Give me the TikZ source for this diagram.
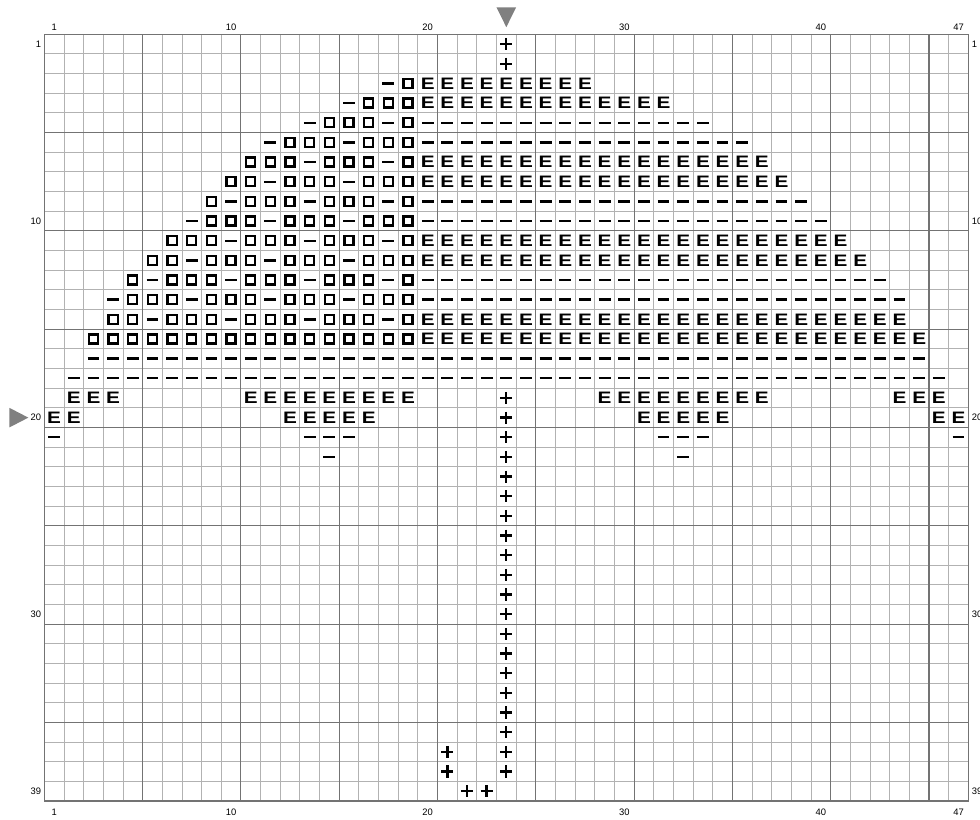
\documentclass[tikz,border=0pt]{standalone}
\usepackage{fontspec}
\setmainfont{Liberation Sans}
\usepackage{graphicx}
\usepackage{tikz}
\definecolor{gridminor}{gray}{0.70}
\definecolor{gridmajor}{gray}{0.45}
\definecolor{markgray}{gray}{0.50}
\tikzset{
  gridthin/.style={draw=gridminor, line width=0.6pt},
  gridthick/.style={draw=gridmajor, line width=0.8pt},
  gridframe/.style={draw=gridmajor, line width=1pt},
  stsym/.style={draw=black, line width=1.7pt},
  stbox/.style={draw=black, line width=1.6pt},
  stE/.style={font=\bfseries\fontsize{12}{12}\selectfont, inner sep=0pt},
  numlbl/.style={font=\fontsize{6.8}{8}\selectfont, inner sep=0pt}
}
\newcommand{\StSq}[2]{%
  \draw[stbox] (#1-0.73,#2-0.73) rectangle (#1-0.27,#2-0.27);
}
\newcommand{\StDash}[2]{%
  \draw[stsym] (#1-0.8,#2-0.5) -- (#1-0.2,#2-0.5);
}
\newcommand{\StCross}[2]{%
  \draw[stsym] (#1-0.81,#2-0.5) -- (#1-0.19,#2-0.5)
    (#1-0.5,#2-0.81) -- (#1-0.5,#2-0.19);
}
\newcommand{\StE}[2]{%
  \node[stE] (E#1-#2) at (#1-0.5,#2-0.5) {\scalebox{1.25}[1]{E}};
}

\begin{document}
\begin{tikzpicture}[x=0.5cm,y=-0.5cm]
  \useasboundingbox (-2.253,-1.742) rectangle (47.594,39.954);

  % grid
  \foreach \i in {0,...,47} \draw[gridthin] (\i,0) -- (\i,39);
  \foreach \j in {0,...,39} \draw[gridthin] (0,\j) -- (47,\j);
  \foreach \i in {5,10,...,45} \draw[gridthick] (\i,0) -- (\i,39);
  \foreach \j in {5,10,...,35} \draw[gridthick] (0,\j) -- (47,\j);
  \draw[gridframe] (0,0) rectangle (47,39);

  \foreach \c in {1,10,20,30,40,47} {
    \node[numlbl, anchor=base] (ct\c) at (\c-0.5,-0.17) {\c};
    \node[numlbl, anchor=base] (cb\c) at (\c-0.5,39.73) {\c};
  }
  \foreach \r in {1,10,20,30,39} {
    \node[numlbl, anchor=east] (rl\r) at (-0.15,\r-0.5) {\r};
    \node[numlbl, anchor=west] (rr\r) at (47.17,\r-0.5) {\r};
  }

  % centre marks
  \fill[markgray] (23,-1.37) -- (24,-1.37) -- (23.5,-0.36) -- cycle;
  \fill[markgray] (-1.78,19) -- (-1.78,20) -- (-0.81,19.5) -- cycle;

  % dome, left part
  \foreach \r/\s in {3/18,4/16,5/14,6/12,7/11,8/10,9/9,10/8,11/7,12/6,13/5,14/4,15/4} {
    \foreach \c in {\s,...,19} {
      \pgfmathtruncatemacro{\k}{mod(\c+2*\r,4)}
      \ifnum\k=0 \StDash{\c}{\r} \else \StSq{\c}{\r} \fi
    }
  }
  \foreach \c in {3,...,19} {\StSq{\c}{16}}

  % dome, right part
  \foreach \r/\e in {3/28,4/32,7/37,8/38,11/41,12/42,15/44,16/45} {
    \foreach \c in {20,...,\e} {\StE{\c}{\r}}
  }
  \foreach \r/\e in {5/34,6/36,9/39,10/40,13/43,14/44} {
    \foreach \c in {20,...,\e} {\StDash{\c}{\r}}
  }

  % rim
  \foreach \c in {3,...,45} {\StDash{\c}{17}}
  \foreach \c in {2,...,46} {\StDash{\c}{18}}
  \foreach \c in {2,3,4,11,12,...,19,29,30,...,37,44,45,46} {\StE{\c}{19}}
  \foreach \c in {1,2,13,14,...,17,31,32,...,35,46,47} {\StE{\c}{20}}
  \foreach \c in {1,14,15,16,32,33,34,47} {\StDash{\c}{21}}
  \foreach \c in {15,33} {\StDash{\c}{22}}

  % handle
  \foreach \r in {1,2} {\StCross{24}{\r}}
  \foreach \r in {19,...,38} {\StCross{24}{\r}}
  \StCross{21}{37}
  \StCross{21}{38}
  \StCross{22}{39}
  \StCross{23}{39}
\end{tikzpicture}
\end{document}
